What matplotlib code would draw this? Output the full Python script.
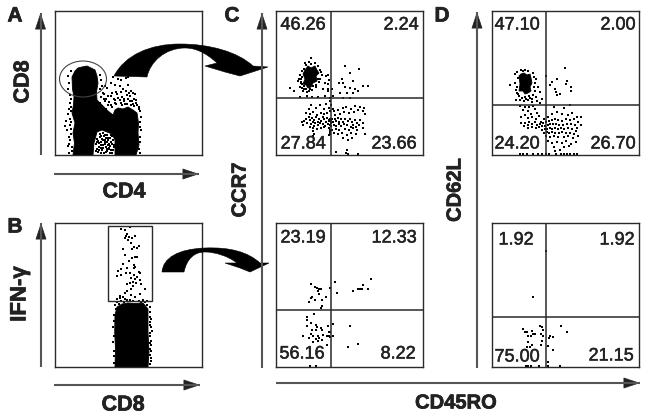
import numpy as np
import matplotlib
matplotlib.use('Agg')
import matplotlib.pyplot as plt
import matplotlib.patheffects as pe
from matplotlib.path import Path
from matplotlib.patches import Polygon, Ellipse, Rectangle, FancyArrowPatch, PathPatch

plt.rcParams['font.family'] = ['Liberation Sans', 'DejaVu Sans']

W, H = 645, 416
DARK = '#2a2a2a'

# all events are in panel channels, x 0-147, y 0-144
a_core = [(18, 0), (19.5, 12), (18, 22), (20, 32), (17, 42), (18.5, 50), (19, 58), (17.5, 66), (17, 78), (20, 84),
          (23, 87), (27, 88), (32, 89), (36, 87), (40, 85), (42, 79), (43, 72), (41.5, 63), (42, 55), (47, 50),
          (53, 44), (58, 40), (60, 45), (63, 47), (68, 46), (73, 48), (78, 45), (82, 42), (83.5, 32), (83, 22),
          (84, 10), (81, 0), (60, 0), (60, 15), (57, 21), (52, 23), (47, 25), (42, 23), (39, 12), (38, 0)]
a_dots = [(14.3, 72.2), (13.1, 66.4), (16.2, 84.1), (12.6, 78.8), (45.2, 80.3), (46.4, 74.6), (47.3, 69.5), (44.8, 66.1),
          (47.7, 62.2), (45.6, 58.3), (49.4, 60.6), (52.1, 66.7), (55.6, 72.2), (58.3, 78.4), (62.8, 76.1), (66.2, 74.8),
          (70.5, 76.6), (73.1, 78.2), (60.4, 70.3), (64.7, 68.6), (68.2, 66.1), (72.6, 70.2), (76.3, 64.4), (56.8, 62.3),
          (50.2, 68.7), (53.3, 58.6), (58.6, 56.1), (62.1, 60.8), (67.4, 58.2), (71.7, 60.3), (75.2, 58.7), (78.5, 56.4),
          (80.1, 60.6), (74.6, 54.3), (69.2, 53.6), (64.5, 54.8), (59.7, 52.2), (54.1, 53.4), (49.8, 53.7), (45.3, 52.1),
          (48.5, 56.2), (52.6, 50.3), (57.1, 48.4), (61.4, 50.6), (66.6, 50.2), (72.3, 51.4), (77.8, 50.7), (81.2, 52.3),
          (83.6, 48.1), (85.2, 44.5), (86.1, 38.2), (85.4, 32.7), (84.7, 28.3), (86.3, 24.6), (85.1, 18.2), (84.6, 12.8),
          (83.7, 6.2), (85.2, 2.4), (63.4, 56.7), (68.8, 56.1), (73.3, 55.6), (77.1, 53.8), (80.6, 55.2), (65.7, 52.4),
          (70.4, 50.8), (75.5, 49.6), (60.3, 54.7), (55.8, 50.2), (51.4, 55.8), (46.6, 48.7), (50.7, 46.3), (79.4, 48.6),
          (82.4, 50.4), (84.1, 46.2), (56.2, 59.4), (60.8, 63.2), (66.3, 62.6), (70.7, 64.3), (74.4, 62.1), (78.3, 61.7),
          (13.2, 40.6), (11.4, 34.2), (14.6, 30.3), (12.3, 24.7), (15.1, 36.4), (16.4, 26.2), (13.7, 18.3), (15.2, 14.8),
          (16.6, 8.4), (14.3, 2.2), (10.2, 28.6), (16.3, 48.4), (14.8, 52.1), (15.5, 20.6), (17.2, 4.3), (12.6, 8.7),
          (16.4, 44.2), (15.7, 56.2), (14.1, 46.3), (15.2, 60.3), (13.8, 11.2), (16.2, 32.7),
          (40.2, 20.3), (42.1, 16.4), (41.3, 10.7), (40.6, 4.2), (43.4, 2.6), (44.2, 8.3), (45.7, 13.4), (46.1, 19.2),
          (47.3, 4.7), (48.2, 10.4), (49.6, 15.2), (50.1, 20.4), (51.7, 6.3), (52.2, 12.8), (53.4, 17.1), (54.7, 2.3),
          (55.3, 8.6), (56.1, 13.2), (57.4, 18.7), (58.2, 5.1), (58.8, 10.3), (44.6, 18.1), (47.5, 14.7), (50.3, 11.2),
          (53.6, 7.4), (56.2, 4.8), (42.3, 6.5), (46.4, 7.2), (49.2, 2.4), (55.7, 20.1), (52.4, 3.6), (48.8, 19.3),
          (51.2, 16.6), (54.3, 11.4), (57.6, 15.2), (44.1, 12.3), (45.2, 21.2), (48.1, 22.4), (51.6, 20.2), (46.6, 16.4),
          (49.7, 13.1), (52.8, 15.3), (55.1, 17.2), (43.2, 14.2), (45.6, 10.1), (47.9, 7.3), (50.6, 8.4), (53.1, 9.7),
          (56.8, 11.2), (59.2, 7.6), (41.6, 13.4), (43.7, 5.4), (46.2, 2.1), (51.1, 2.7), (54.2, 5.6), (57.3, 2.2)]

b_core = [(60, 0), (60.5, 18), (59.7, 35), (60, 52), (62, 60), (67, 63), (73, 64), (80, 63.5), (88, 64), (93, 58),
          (93, 35), (94, 15), (93, 0)]
b_dots = [(66.2, 138.3), (70.4, 137.1), (75.3, 140.2), (72.1, 133.4), (71.3, 130.6), (74.2, 130.2), (72.6, 127.4), (70.1, 129.3),
          (77.4, 129.1), (80.2, 131.3), (76.3, 123.6), (79.4, 120.2), (82.1, 119.5), (84.3, 120.7), (77.2, 118.1), (68.4, 117.6),
          (70.3, 112.2), (76.6, 109.4), (80.1, 109.7), (82.4, 110.2), (74.2, 106.1), (78.5, 102.4), (68.2, 102.6), (66.3, 98.4),
          (72.1, 98.7), (80.3, 100.2), (79.2, 99.1), (84.4, 95.2), (63.1, 95.6), (66.4, 92.3), (71.2, 94.1), (74.6, 94.5),
          (79.1, 92.3), (85.2, 94.2), (62.3, 91.4), (76.2, 88.6), (80.4, 88.1), (82.1, 90.3), (78.3, 85.2), (84.6, 87.4),
          (72.3, 83.5), (75.2, 84.1), (78.4, 81.3), (81.1, 84.2), (86.2, 82.6), (90.3, 78.1), (75.6, 78.4), (72.2, 76.3),
          (76.1, 72.4), (70.4, 74.2), (68.2, 70.5), (65.3, 69.2), (62.4, 68.1), (64.6, 71.3), (70.3, 68.4), (75.1, 67.2),
          (80.2, 70.3), (85.4, 72.6), (62.2, 65.4), (66.1, 66.3), (72.4, 66.6), (78.2, 66.1), (84.1, 66.4), (88.3, 67.2),
          (92.1, 66.5), (60.4, 62.3), (95.2, 55.3), (96.1, 48.4), (95.3, 42.2), (97.2, 36.1), (95.4, 30.6), (96.2, 22.3),
          (95.1, 12.4), (95.6, 6.3), (58.2, 40.3), (58.4, 25.2), (59.1, 10.6), (94.6, 60.2), (92.4, 62.4), (90.3, 65.1),
          (85.7, 65.2), (75.4, 65.6), (69.3, 65.2), (64.2, 63.4), (61.3, 58.4), (59.2, 52.1), (58.8, 46.2), (59.1, 31.2),
          (58.6, 16.3), (59.3, 4.2), (94.8, 50.4), (94.7, 44.6), (96.4, 40.2), (95.8, 26.1), (94.9, 18.4), (96.3, 16.2),
          (96.1, 9.2), (95.2, 2.6), (94.6, 34.2), (94.8, 24.4)]

c_top_core = [(27, 81), (29, 85), (32, 89), (35, 87), (39, 89), (41, 85), (43, 82), (40, 79), (41, 74), (37, 72),
              (35, 68), (32, 67), (30, 70), (27, 71), (29, 76)]
c_top_dots = [(24.3, 80.2), (25.1, 76.4), (24.6, 72.3), (26.2, 67.5), (28.4, 66.1), (30.3, 65.6), (34.2, 66.3), (37.1, 69.2),
              (40.2, 70.4), (43.3, 72.6), (44.1, 76.2), (46.2, 80.3), (44.4, 85.1), (42.3, 89.2), (39.2, 92.1), (35.4, 91.3),
              (30.1, 90.2), (28.3, 86.1), (25.6, 84.3), (22.2, 74.4), (24.1, 68.3), (27.2, 64.2), (33.4, 63.6), (36.3, 65.2),
              (35.2, 97.1), (39.1, 92.4), (50.2, 79.3), (52.1, 79.6), (53.4, 75.2), (49.2, 72.1), (52.3, 66.4), (14.4, 67.2),
              (18.1, 64.3), (47.2, 66.3), (52.4, 64.1), (26.3, 78.2), (25.4, 73.2), (27.7, 69.1), (41.6, 76.3), (39.8, 68.2),
              (31.2, 63.1), (23.4, 76.2), (26.2, 71.2), (45.3, 83.2), (29.4, 92.4), (33.2, 92.6),
              (69.3, 89.2), (74.1, 82.3), (83.2, 86.1), (66.4, 76.2), (63.1, 72.4), (67.2, 72.1), (77.3, 74.4), (87.2, 69.1),
              (92.1, 69.3), (69.2, 68.4), (74.4, 67.2), (79.1, 66.3), (82.3, 64.1), (64.2, 62.4), (71.1, 62.2), (77.4, 62.3),
              (56.2, 66.1), (52.3, 71.4), (57.1, 59.2), (67.3, 57.4), (74.2, 57.1), (54.1, 57.3), (24.2, 58.4), (31.4, 59.1),
              (36.3, 58.2), (42.1, 58.4), (49.3, 59.2),
              (54.3, 54.2), (55.2, 50.4), (53.4, 47.1), (56.6, 46.3), (35.3, 50.2), (33.1, 46.4), (40.4, 47.2), (44.2, 49.7),
              (47.6, 46.1), (50.3, 50.6), (30.4, 42.1), (34.2, 41.4), (37.3, 43.2), (41.1, 40.3), (44.6, 42.4), (48.2, 41.1),
              (51.4, 42.3), (54.2, 43.6), (58.1, 44.2), (62.3, 45.4), (66.6, 47.1), (70.2, 48.3), (75.4, 46.2), (79.3, 49.1),
              (84.2, 48.4), (88.1, 47.2), (87.3, 44.1), (82.4, 44.6), (78.1, 43.3), (73.2, 42.2), (68.4, 42.6), (64.1, 41.2),
              (59.3, 40.4), (26.2, 33.1), (30.3, 36.4), (33.2, 38.2), (36.4, 37.1), (38.1, 35.2), (40.2, 37.6), (41.6, 33.4),
              (43.3, 36.2), (45.1, 34.1), (46.7, 38.3), (48.2, 35.6), (50.1, 33.2), (51.4, 37.2), (52.6, 35.1), (53.2, 33.6),
              (53.9, 36.3), (54.6, 34.2), (55.2, 32.4), (56.1, 35.7), (57.2, 33.3), (58.6, 36.2), (60.3, 34.1), (61.7, 37.3),
              (63.2, 33.2), (65.4, 35.6), (67.1, 33.4), (69.3, 36.2), (71.6, 34.3), (74.2, 36.4), (76.3, 33.1), (79.1, 35.2),
              (81.4, 32.3), (84.2, 34.6), (87.3, 32.1), (89.1, 41.2), (28.4, 33.7), (31.2, 32.1), (33.6, 34.7), (35.2, 31.3),
              (37.4, 33.1), (39.3, 31.6), (42.2, 30.4), (44.4, 32.2), (47.2, 31.1), (49.1, 29.3), (51.7, 31.4), (53.8, 30.2),
              (55.4, 28.6), (57.6, 30.1), (60.2, 29.3), (62.6, 31.2), (65.1, 29.2), (68.2, 31.1), (71.4, 30.2), (74.6, 28.4),
              (77.2, 30.3), (80.3, 28.1), (83.4, 29.6), (27.2, 30.1), (34.1, 28.3), (37.3, 27.1), (38.4, 29.2), (41.2, 26.3),
              (45.3, 26.6), (47.7, 28.1), (53.2, 27.4), (54.1, 25.2), (53.6, 23.4), (54.3, 21.4), (53.2, 19.6), (37.2, 24.3),
              (37.6, 21.2), (36.6, 19.1), (56.2, 25.4), (60.4, 26.1), (63.1, 24.7), (69.4, 26.3), (73.2, 25.1), (77.1, 26.6),
              (81.3, 25.2), (87.1, 27.3), (58.2, 22.1), (62.3, 21.4), (66.1, 22.3), (71.2, 20.1), (75.3, 22.4), (80.1, 21.3),
              (89.2, 21.1), (67.3, 17.2), (72.2, 15.4), (76.4, 17.3), (60.3, 3.2), (70.2, 2.4), (71.1, 5.2), (82.2, 1.3),
              (71.6, 1.2)]

d_top_core = [(27, 79), (29, 81), (32, 82), (35, 80), (38, 81), (39, 77), (40, 72), (38, 68), (39, 64), (36, 62),
              (33, 61), (31, 64), (27, 64), (28, 71)]
d_top_dots = [(23.2, 81.3), (25.1, 83.2), (29.4, 85.1), (33.2, 85.4), (36.3, 84.2), (41.1, 82.3), (44.2, 76.4), (42.3, 78.2),
              (18.3, 70.1), (23.4, 72.2), (25.2, 68.4), (25.4, 62.1), (27.1, 59.3), (30.2, 57.1), (33.3, 58.4), (37.2, 59.1),
              (41.4, 60.2), (43.2, 64.3), (46.1, 68.2), (48.3, 63.4), (44.2, 58.1), (40.3, 56.2), (36.1, 55.4), (32.4, 54.2),
              (28.2, 55.1), (24.3, 55.3), (40.1, 53.2), (45.3, 54.4), (48.2, 52.1), (50.1, 56.3), (25.6, 77.2), (24.4, 65.2),
              (41.6, 68.3), (43.1, 72.4), (26.3, 60.6), (34.2, 56.2), (38.1, 57.4), (31.1, 83.6),
              (54.2, 79.1), (65.3, 76.2), (73.1, 87.4), (75.2, 74.3), (74.3, 71.1), (60.1, 73.4), (58.4, 70.2), (63.2, 66.1),
              (79.1, 68.3), (79.3, 64.2), (64.4, 63.1), (65.1, 60.4), (68.2, 61.1), (78.1, 50.3),
              (28.2, 49.1), (33.4, 48.3), (37.1, 48.2), (41.3, 49.2), (43.2, 46.4), (36.4, 44.1), (31.1, 45.2), (45.3, 42.3),
              (39.2, 41.4), (33.1, 40.2), (29.3, 38.1), (36.2, 37.4), (40.4, 38.2), (44.1, 36.3), (47.2, 39.1), (62.3, 48.2),
              (72.1, 47.4), (80.2, 42.3), (85.1, 38.2), (89.4, 38.1), (76.2, 40.3), (70.4, 41.1), (65.1, 43.2), (60.3, 41.4),
              (56.2, 38.1), (52.4, 36.3), (49.1, 33.2), (43.2, 33.4), (37.3, 33.1), (33.1, 32.4), (29.4, 32.1), (32.2, 29.3),
              (36.1, 30.2), (40.3, 31.1), (45.2, 30.4), (48.1, 31.2), (51.3, 32.1), (54.2, 33.3), (57.1, 34.2), (60.4, 35.1),
              (63.2, 36.3), (66.1, 35.2), (70.3, 34.1), (74.2, 36.2), (78.4, 35.1), (82.1, 36.4), (86.2, 33.1), (89.1, 30.3),
              (36.3, 27.2), (40.1, 28.4), (44.2, 27.1), (47.3, 28.2), (50.4, 29.1), (53.1, 29.3), (56.2, 30.4), (58.1, 31.2),
              (61.3, 31.1), (64.2, 31.4), (67.1, 30.2), (71.4, 30.1), (75.2, 31.3), (79.1, 31.1), (83.3, 30.2), (85.1, 27.3),
              (50.2, 25.1), (53.3, 26.2), (55.1, 26.4), (58.2, 27.1), (60.4, 26.3), (63.1, 27.2), (66.3, 26.1), (69.2, 27.4),
              (72.1, 26.2), (76.3, 27.1), (80.2, 26.3), (84.1, 24.2), (52.1, 22.3), (55.3, 23.1), (57.2, 22.4), (60.1, 23.2),
              (63.3, 22.1), (67.2, 22.3), (70.1, 23.4), (74.3, 22.2), (78.1, 22.1), (82.2, 21.3), (54.4, 19.2), (58.1, 18.3),
              (62.2, 19.1), (66.3, 18.4), (72.1, 18.2), (76.2, 19.3), (81.1, 17.2), (86.3, 19.1), (56.2, 14.3), (60.1, 12.2),
              (65.3, 13.4), (70.2, 12.1), (74.1, 14.3), (79.2, 11.2), (84.3, 13.1), (62.1, 8.2), (68.3, 5.4), (72.2, 8.1),
              (77.1, 9.3), (63.2, 4.1), (28.3, 1.2), (31.1, 1.1), (35.2, 1.3), (41.4, 1.2), (46.1, 1.1), (50.2, 1.2),
              (54.3, 1.1), (57.1, 1.3), (64.2, 1.2), (69.4, 1.1), (72.3, 1.2), (75.1, 1.1), (78.2, 1.3), (82.1, 1.2), (85.3, 1.1)]

c_bottom_dots = [(35, 83), (39, 80), (41, 79), (43, 78), (45, 78), (42, 76), (43, 73), (36, 70), (35, 69), (33, 65),
                 (39, 67), (46, 67), (50, 70), (46, 61), (45, 59), (54, 79), (59, 85), (61, 74), (77, 76), (82, 78),
                 (84, 78), (86, 78), (87, 82), (92, 78), (95, 88), (38, 53), (31, 50), (31, 47), (35, 44), (31, 41),
                 (40, 42), (41, 40), (36, 37), (45, 39), (46, 37), (40, 37), (52, 41), (57, 43), (74, 41), (27, 31),
                 (35, 33), (33, 29), (37, 31), (42, 31), (47, 32), (43, 29), (40, 28), (42, 26), (37, 25), (46, 27),
                 (51, 31), (53, 35), (54, 35), (53, 31), (54, 30), (57, 31), (51, 22), (72, 20), (82, 23), (34, 1),
                 (40, 1)]

d_bottom_dots = [(54, 116), (41, 70), (31, 38), (33, 35), (35, 35), (36, 31), (40, 36), (41, 33), (43, 33), (39, 31),
                 (48, 41), (50, 40), (51, 37), (49, 33), (51, 31), (50, 26), (49, 22), (36, 25), (40, 22), (35, 20),
                 (38, 20), (57, 29), (58, 31), (61, 30), (69, 41), (75, 35), (61, 17), (56, 21), (56, 5), (34, 1),
                 (36, 1), (39, 1), (47, 1), (56, 1), (68, 1)]

c_top_labels = ['46.26', '2.24', '27.84', '23.66']
c_bottom_labels = ['23.19', '12.33', '56.16', '8.22']
d_top_labels = ['47.10', '2.00', '24.20', '26.70']
d_bottom_labels = ['1.92', '1.92', '75.00', '21.15']


def panel(left, top, dots, core=None, split=None):
    ax = fig.add_axes([left / W, 1 - (top + 144) / H, 147 / W, 144 / H])
    ax.set_xlim(0, 147)
    ax.set_ylim(0, 144)
    ax.set_xticks([])
    ax.set_yticks([])
    for s in ax.spines.values():
        s.set_linewidth(1.0)
        s.set_color(DARK)
    if core is not None:
        ax.add_patch(Polygon(core, closed=True, fc='black', ec='black', lw=0.6))
    xs, ys = np.array(dots).T
    ax.scatter(xs, ys, s=0.9, c='black', marker='s', linewidths=0)
    if split is not None:
        ax.axvline(split[0], color=DARK, lw=1.1)
        ax.axhline(split[1], color=DARK, lw=1.1)
    return ax


def axis_arrow(x0, y0, x1, y1):
    over.plot([x0, x1], [y0, y1], color='#555555', lw=1.5, solid_capstyle='butt')
    dx, dy = np.sign(x1 - x0), np.sign(y1 - y0)
    over.add_patch(FancyArrowPatch((x1 - 12 * dx, y1 - 12 * dy), (x1, y1), arrowstyle='-|>,head_length=0.9,head_width=0.3',
                                   mutation_scale=12, color='#222222', lw=0.5, shrinkA=0, shrinkB=0))


def curved_arrow(verts, codes):
    over.add_patch(PathPatch(Path(verts, codes), fc='black', ec='black', lw=0.4))


def quad_labels(labels, spots):
    for lab, (x, y) in zip(labels, spots):
        over.text(x, y, lab, fontsize=13, color='#222222', ha='center', va='center',
                  path_effects=[pe.withStroke(linewidth=0.35, foreground='#222222')])


fig = plt.figure(figsize=(W / 100, H / 100), dpi=100, facecolor='white')

ax_a = panel(55, 11, a_dots, core=a_core)
ax_a.add_patch(Ellipse((28, 76), 47, 36, fc='none', ec='#444444', lw=0.8))
ax_b = panel(55, 223, b_dots, core=b_core)
ax_b.add_patch(Rectangle((53, 66), 44, 75, fc='none', ec=DARK, lw=1.0))
panel(276, 11, c_top_dots, core=c_top_core, split=(55, 57))
panel(276, 223, c_bottom_dots, split=(55, 57))
panel(492, 11, d_top_dots, core=d_top_core, split=(54, 50))
panel(492, 223, d_bottom_dots, split=(54, 50))

# overlay in image pixels for arrows and labels
over = fig.add_axes([0, 0, 1, 1], zorder=5)
over.set_xlim(0, W)
over.set_ylim(H, 0)
over.axis('off')
over.patch.set_alpha(0)

M, L, C, Z = Path.MOVETO, Path.LINETO, Path.CURVE4, Path.CLOSEPOLY
curved_arrow([(114, 76), (125, 55), (150, 44), (180, 44), (210, 44), (238, 52), (253, 66), (268, 67), (240, 76),
              (225, 72), (205, 66), (217, 63), (205, 52), (195, 48), (185, 48), (165, 48), (150, 62), (147, 77), (114, 76)],
             [M, C, C, C, C, C, C, L, L, L, L, L, C, C, C, C, C, C, Z])
curved_arrow([(162, 272), (163, 258), (178, 249), (205, 248), (230, 247), (248, 252), (260, 263), (269, 263), (250, 272),
              (240, 268), (225, 263), (237, 263), (228, 256), (215, 252), (205, 252), (195, 252), (187, 258), (184, 272), (162, 272)],
             [M, C, C, C, C, C, C, L, L, L, L, L, C, C, C, C, C, C, Z])

axis_arrow(40.5, 155, 40.5, 13)
axis_arrow(54, 174, 199, 174)
axis_arrow(41, 367, 41, 223)
axis_arrow(54, 385, 200, 385)
axis_arrow(262, 368, 262, 13)
axis_arrow(477, 368, 477, 12)
axis_arrow(276, 383, 640, 383)

heavy = [pe.withStroke(linewidth=0.5, foreground='#222222')]
for lab, x, y in [('A', 15, 16), ('B', 15, 227), ('C', 232, 16), ('D', 442, 16)]:
    over.text(x, y, lab, fontsize=15, fontweight='bold', color='#222222', ha='center', va='center', path_effects=heavy)

for lab, x, y, rot, size in [('CD8', 23, 82, 90, 15.5), ('CD4', 124, 192, 0, 15.5), ('IFN-γ', 20, 294, 90, 16),
                             ('CD8', 123, 405, 0, 15.5), ('CCR7', 240, 190, 90, 14.5), ('CD62L', 455, 190, 90, 14.5),
                             ('CD45RO', 456, 403, 0, 14.5)]:
    over.text(x, y, lab, fontsize=size, fontweight='bold', color='#222222', ha='center', va='center', rotation=rot,
              path_effects=heavy)

quad_labels(c_top_labels, [(303, 25), (401, 25), (303, 144), (394, 144)])
quad_labels(c_bottom_labels, [(303, 238), (394, 238), (302, 354), (398, 354)])
quad_labels(d_top_labels, [(517, 25), (618, 25), (517, 144), (613, 144)])
quad_labels(d_bottom_labels, [(516, 240), (617, 240), (517, 357), (611, 356)])

fig.savefig('out.png', dpi=100)
